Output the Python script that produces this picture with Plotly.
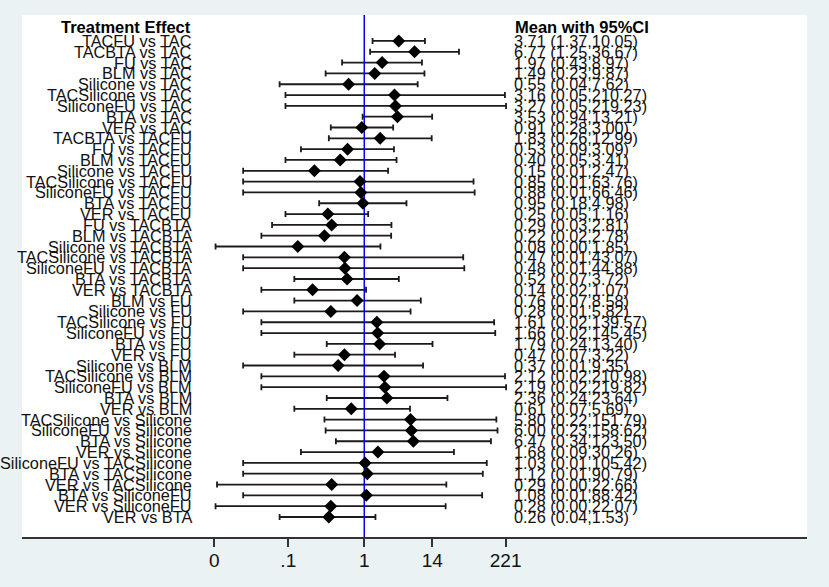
import plotly.graph_objects as go

labels = [
    "TACFU vs TAC", "TACBTA vs TAC", "FU vs TAC", "BLM vs TAC", "Silicone vs TAC",
    "TACSilicone vs TAC", "SiliconeFU vs TAC", "BTA vs TAC", "VER vs TAC",
    "TACBTA vs TACFU", "FU vs TACFU", "BLM vs TACFU", "Silicone vs TACFU",
    "TACSilicone vs TACFU", "SiliconeFU vs TACFU", "BTA vs TACFU", "VER vs TACFU",
    "FU vs TACBTA", "BLM vs TACBTA", "Silicone vs TACBTA", "TACSilicone vs TACBTA",
    "SiliconeFU vs TACBTA", "BTA vs TACBTA", "VER vs TACBTA",
    "BLM vs FU", "Silicone vs FU", "TACSilicone vs FU", "SiliconeFU vs FU", "BTA vs FU", "VER vs FU",
    "Silicone vs BLM", "TACSilicone vs BLM", "SiliconeFU vs BLM", "BTA vs BLM", "VER vs BLM",
    "TACSilicone vs Silicone", "SiliconeFU vs Silicone", "BTA vs Silicone", "VER vs Silicone",
    "SiliconeFU vs TACSilicone", "BTA vs TACSilicone", "VER vs TACSilicone",
    "BTA vs SiliconeFU", "VER vs SiliconeFU",
    "VER vs BTA",
]
mean = [3.71, 6.77, 1.97, 1.49, 0.55, 3.16, 3.27, 3.53, 0.91,
        1.83, 0.53, 0.40, 0.15, 0.85, 0.88, 0.95, 0.25,
        0.29, 0.22, 0.08, 0.47, 0.48, 0.52, 0.14,
        0.76, 0.28, 1.61, 1.66, 1.79, 0.47,
        0.37, 2.12, 2.19, 2.36, 0.61,
        5.80, 6.00, 6.47, 1.68,
        1.03, 1.12, 0.29,
        1.08, 0.28,
        0.26]
lower = [1.37, 1.25, 0.43, 0.23, 0.04, 0.05, 0.05, 0.94, 0.28,
         0.26, 0.09, 0.05, 0.01, 0.01, 0.01, 0.18, 0.05,
         0.03, 0.02, 0.0035, 0.01, 0.01, 0.07, 0.02,
         0.07, 0.01, 0.02, 0.02, 0.24, 0.07,
         0.01, 0.02, 0.02, 0.24, 0.07,
         0.22, 0.23, 0.34, 0.09,
         0.01, 0.01, 0.0037,
         0.01, 0.0035,
         0.04]
upper = [10.05, 36.67, 8.97, 9.87, 7.62, 210.27, 219.23, 13.21, 3.00,
         12.99, 3.09, 3.41, 2.47, 63.76, 66.46, 4.98, 1.16,
         2.81, 2.78, 1.85, 43.07, 44.88, 3.72, 1.07,
         8.58, 5.82, 139.57, 145.45, 13.40, 3.22,
         9.35, 210.98, 219.82, 23.64, 5.69,
         151.79, 158.62, 123.50, 30.26,
         105.42, 90.79, 22.66,
         88.42, 22.07,
         1.53]
tick_values = [0.00333, 0.0556, 1, 13.3, 216]
tick_labels = ["0", ".1", "1", "14", "221"]
null_value = 1

rows = list(range(1, len(labels) + 1))
ci_text = ["%.2f (%.2f,%.2f)" % (m, l, u) for m, l, u in zip(mean, lower, upper)]

FONT = "Liberation Sans, Arial, sans-serif"
y_top, y_bot = -1.40, 46.85

fig = go.Figure()
# CI whiskers
fig.add_trace(go.Scatter(
    x=mean, y=rows, mode="markers",
    marker=dict(size=1, color="rgba(0,0,0,0)"),
    error_x=dict(type="data", symmetric=False,
                 array=[u - m for u, m in zip(upper, mean)],
                 arrayminus=[m - l for m, l in zip(mean, lower)],
                 color="#1e1a1a", thickness=1.8, width=3),
    hoverinfo="skip", showlegend=False))
# null line
fig.add_trace(go.Scatter(
    x=[null_value, null_value], y=[y_top, y_bot], mode="lines",
    line=dict(color="#0000ff", width=1.5), showlegend=False, hoverinfo="skip"))
# point estimates
fig.add_trace(go.Scatter(
    x=mean, y=rows, mode="markers",
    marker=dict(symbol="diamond", size=10, color="black", line=dict(width=0)),
    showlegend=False))

annotations = []
LX, RX = 0.2178, 0.6255
annotations.append(dict(x=LX, y=-0.25, xref="paper", yref="y", text="<b>Treatment Effect</b>",
                        xanchor="right", yanchor="middle", showarrow=False,
                        font=dict(family=FONT, size=16.5, color="black")))
annotations.append(dict(x=RX, y=-0.25, xref="paper", yref="y", text="<b>Mean with 95%CI</b>",
                        xanchor="left", yanchor="middle", showarrow=False,
                        font=dict(family=FONT, size=16.5, color="black")))
for r, lab, ct in zip(rows, labels, ci_text):
    annotations.append(dict(x=LX, y=r, xref="paper", yref="y", text=lab,
                            xanchor="right", yanchor="middle", showarrow=False,
                            borderpad=0,
                            font=dict(family=FONT, size=16.3, color="#111")))
    annotations.append(dict(x=RX, y=r, xref="paper", yref="y", text=ct,
                            xanchor="left", yanchor="middle", showarrow=False,
                            borderpad=0,
                            font=dict(family=FONT, size=16.3, color="#111")))

fig.update_layout(
    width=829, height=587,
    margin=dict(l=22, r=22, t=15, b=50, pad=0),
    paper_bgcolor="#eaf2f3", plot_bgcolor="white",
    annotations=annotations,
    xaxis=dict(type="log", range=[-5.652, 7.311],
               tickvals=tick_values, ticktext=tick_labels,
               ticks="outside", ticklen=8, tickwidth=2, tickcolor="#333",
               ticklabelstandoff=-3,
               showline=True, linecolor="#333", linewidth=2,
               showgrid=False, zeroline=False,
               tickfont=dict(family=FONT, size=19, color="#111")),
    yaxis=dict(range=[y_bot, y_top], visible=False, showgrid=False, zeroline=False),
)

fig.write_html("out.html", config={"displayModeBar": False},
               post_script="document.body.style.margin='0';document.body.style.overflow='hidden';")
